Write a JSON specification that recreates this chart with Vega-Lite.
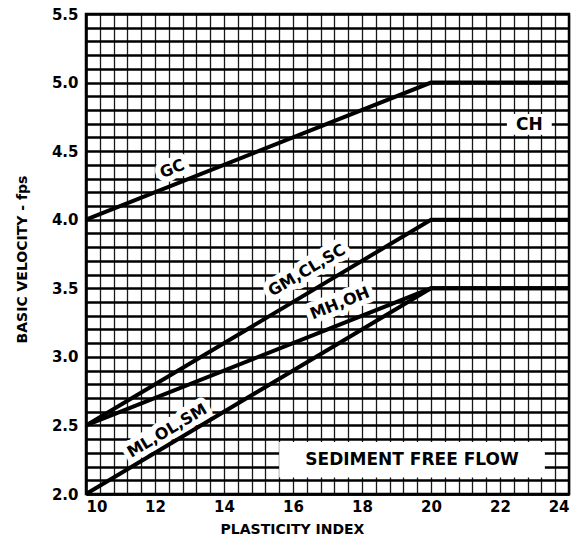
{
  "$schema": "https://vega.github.io/schema/vega-lite/v6.json",
  "width": 483,
  "height": 480,
  "autosize": {"type": "none"},
  "padding": {"left": 86, "top": 14, "right": 14, "bottom": 52},
  "background": "white",
  "config": {
    "view": {"stroke": "black", "strokeWidth": 2.5},
    "font": "DejaVu Sans"
  },
  "datasets": {
    "lines": [
      {"series": "GC", "x": 10, "y": 4.0},
      {"series": "GC", "x": 20, "y": 5.0},
      {"series": "GC", "x": 24, "y": 5.0},
      {"series": "GM,CL,SC", "x": 10, "y": 2.5},
      {"series": "GM,CL,SC", "x": 20, "y": 4.0},
      {"series": "GM,CL,SC", "x": 24, "y": 4.0},
      {"series": "MH,OH", "x": 10, "y": 2.5},
      {"series": "MH,OH", "x": 20, "y": 3.5},
      {"series": "MH,OH", "x": 24, "y": 3.5},
      {"series": "ML,OL,SM", "x": 10, "y": 2.0},
      {"series": "ML,OL,SM", "x": 20, "y": 3.5},
      {"series": "ML,OL,SM", "x": 24, "y": 3.5}
    ],
    "labels": [
      {"label": "GC", "x": 12.5, "y": 4.37},
      {"label": "GM,CL,SC", "x": 16.4, "y": 3.63},
      {"label": "MH,OH", "x": 17.36, "y": 3.39},
      {"label": "ML,OL,SM", "x": 12.35, "y": 2.46},
      {"label": "CH", "x": 22.85, "y": 4.69},
      {"label": "SEDIMENT FREE FLOW", "x": 19.45, "y": 2.25}
    ],
    "boxes": [
      {"x": 15.6, "xe": 23.3, "y": 2.12, "ye": 2.38},
      {"x": 22.2, "xe": 23.5, "y": 4.62, "ye": 4.77}
    ]
  },
  "encoding": {
    "x": {
      "field": "x", "type": "quantitative",
      "scale": {"domain": [10, 24], "nice": false, "zero": false},
      "axis": {
        "title": "PLASTICITY INDEX",
        "values": [10, 10.4, 10.8, 11.2, 11.6, 12, 12.4, 12.8, 13.2, 13.6, 14, 14.4, 14.8, 15.2, 15.6, 16, 16.4, 16.8, 17.2, 17.6, 18, 18.4, 18.8, 19.2, 19.6, 20, 20.4, 20.8, 21.2, 21.6, 22, 22.4, 22.8, 23.2, 23.6, 24],
        "labelExpr": "abs(datum.value - round(datum.value / 2) * 2) < 0.01 ? format(datum.value, 'd') : ''",
        "grid": true, "gridColor": "black", "gridWidth": 1.3, "gridOpacity": 0.9,
        "ticks": false, "domain": true, "domainColor": "black", "domainWidth": 2.5,
        "labelFont": "DejaVu Sans", "labelFontWeight": "bold", "labelFontSize": 15, "labelColor": "black",
        "labelPadding": 5, "labelOverlap": false,
        "titleFont": "DejaVu Sans", "titleFontWeight": "bold", "titleFontSize": 14, "titleColor": "black",
        "titlePadding": 8, "titleX": 206
      }
    },
    "y": {
      "field": "y", "type": "quantitative",
      "scale": {"domain": [2, 5.5], "nice": false, "zero": false},
      "axis": {
        "title": "BASIC VELOCITY - fps",
        "values": [2.0, 2.1, 2.2, 2.3, 2.4, 2.5, 2.6, 2.7, 2.8, 2.9, 3.0, 3.1, 3.2, 3.3, 3.4, 3.5, 3.6, 3.7, 3.8, 3.9, 4.0, 4.1, 4.2, 4.3, 4.4, 4.5, 4.6, 4.7, 4.8, 4.9, 5.0, 5.1, 5.2, 5.3, 5.4, 5.5],
        "labelExpr": "abs(datum.value * 2 - round(datum.value * 2)) < 0.01 ? format(datum.value, '.1f') : ''",
        "grid": true, "gridColor": "black", "gridWidth": 2.5,
        "ticks": false, "domain": true, "domainColor": "black", "domainWidth": 2.5,
        "labelFont": "DejaVu Sans", "labelFontWeight": "bold", "labelFontSize": 15, "labelColor": "black",
        "labelPadding": 8, "labelOverlap": false,
        "titleFont": "DejaVu Sans", "titleFontWeight": "bold", "titleFontSize": 14, "titleColor": "black",
        "titlePadding": 22, "titleY": 245
      }
    }
  },
  "layer": [
    {
      "data": {"name": "boxes"},
      "mark": {"type": "rect", "fill": "white", "stroke": null},
      "encoding": {"x2": {"field": "xe"}, "y2": {"field": "ye"}}
    },
    {
      "data": {"name": "labels"},
      "transform": [{"filter": "datum.label == 'GC' || datum.label == 'MH,OH'"}],
      "mark": {"type": "text", "angle": -21.7, "fill": "white", "stroke": "white", "strokeWidth": 11, "strokeJoin": "round", "fontSize": 16, "fontWeight": "bold", "font": "DejaVu Sans"},
      "encoding": {"text": {"field": "label"}}
    },
    {
      "data": {"name": "labels"},
      "transform": [{"filter": "datum.label == 'GM,CL,SC' || datum.label == 'ML,OL,SM'"}],
      "mark": {"type": "text", "angle": -30.8, "fill": "white", "stroke": "white", "strokeWidth": 11, "strokeJoin": "round", "fontSize": 16, "fontWeight": "bold", "font": "DejaVu Sans"},
      "encoding": {"text": {"field": "label"}}
    },
    {
      "data": {"name": "lines"},
      "mark": {"type": "line", "color": "black", "strokeWidth": 4},
      "encoding": {"detail": {"field": "series"}}
    },
    {
      "data": {"name": "labels"},
      "transform": [{"filter": "datum.label == 'GC' || datum.label == 'MH,OH'"}],
      "mark": {"type": "text", "angle": -21.7, "color": "black", "fontSize": 16, "fontWeight": "bold", "font": "DejaVu Sans"},
      "encoding": {"text": {"field": "label"}}
    },
    {
      "data": {"name": "labels"},
      "transform": [{"filter": "datum.label == 'GM,CL,SC' || datum.label == 'ML,OL,SM'"}],
      "mark": {"type": "text", "angle": -30.8, "color": "black", "fontSize": 16, "fontWeight": "bold", "font": "DejaVu Sans"},
      "encoding": {"text": {"field": "label"}}
    },
    {
      "data": {"name": "labels"},
      "transform": [{"filter": "datum.label == 'CH' || datum.label == 'SEDIMENT FREE FLOW'"}],
      "mark": {"type": "text", "color": "black", "fontSize": 17, "fontWeight": "bold", "font": "DejaVu Sans"},
      "encoding": {"text": {"field": "label"}}
    }
  ]
}
